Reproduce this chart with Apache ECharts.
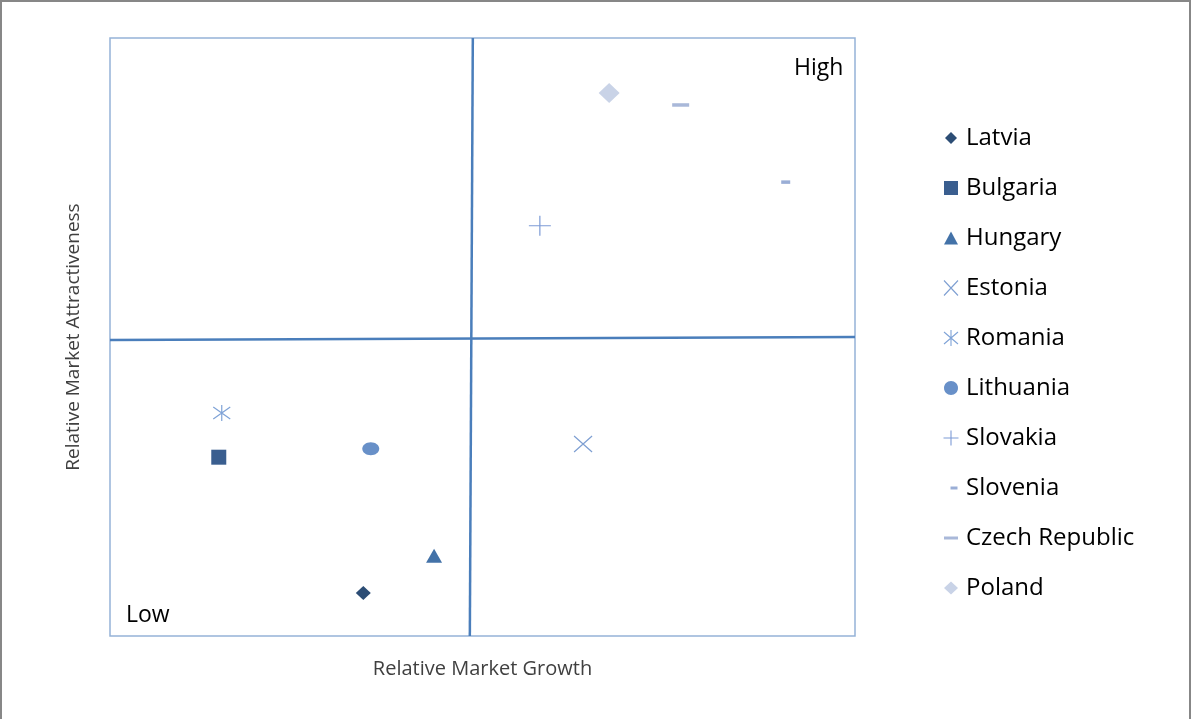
<!DOCTYPE html>
<html>
<head>
<meta charset="utf-8">
<script src="https://cdn.jsdelivr.net/npm/echarts@6/dist/echarts.min.js"></script>
<style>
html,body{margin:0;padding:0;background:#fff;}
#chart{width:1192px;height:719px;}
</style>
</head>
<body>
<div id="chart"></div>
<script>
// ---- data ----
const countries = ['Latvia','Bulgaria','Hungary','Estonia','Romania','Lithuania','Slovakia','Slovenia','Czech Republic','Poland'];
const growth = [34.0, 14.6, 43.5, 63.5, 15.0, 35.0, 57.7, 90.7, 76.6, 67.0];
const attractiveness = [7.2, 29.9, 13.4, 32.1, 37.3, 31.3, 68.6, 75.9, 88.8, 90.8];
const verticalDividerX = [48.7, 48.3];
const verticalDividerY = [100, 0];
const horizontalDividerX = [0, 100];
const horizontalDividerY = [49.5, 50.0];
const xTitle = 'Relative Market Growth';
const yTitle = 'Relative Market Attractiveness';
const highLabel = 'High';
const lowLabel = 'Low';

// ---- styles ----
const colors = ['#2c4d75','#3a5e8f','#4372a8','#7e9fd2','#7fa3d7','#6890c8','#7d9bd6','#9aaed6','#a9b8d9','#c9d3e7'];
const FONT = '"Open Sans"';

function f(n){return (Math.round(n*100)/100).toString();}
function pad(box){return 'M0,0M'+box+','+box;}
function diamond(w,h,box){const c=box/2;return 'path://'+pad(box)+'M'+f(c)+','+f(c-h/2)+'L'+f(c+w/2)+','+f(c)+'L'+f(c)+','+f(c+h/2)+'L'+f(c-w/2)+','+f(c)+'Z';}
function rect(w,h,box,dx){const c=box/2+(dx||0);const cy=box/2;return 'path://'+pad(box)+'M'+f(c-w/2)+','+f(cy-h/2)+'H'+f(c+w/2)+'V'+f(cy+h/2)+'H'+f(c-w/2)+'Z';}
function tri(w,h,box){const c=box/2;return 'path://'+pad(box)+'M'+f(c)+','+f(c-h/2)+'L'+f(c+w/2)+','+f(c+h/2)+'L'+f(c-w/2)+','+f(c+h/2)+'Z';}
function ellipse(w,h,box){const c=box/2,rx=w/2,ry=h/2,k=0.5523;
  return 'path://'+pad(box)+'M'+f(c-rx)+','+f(c)+
  'C'+f(c-rx)+','+f(c-ry*k)+' '+f(c-rx*k)+','+f(c-ry)+' '+f(c)+','+f(c-ry)+
  'C'+f(c+rx*k)+','+f(c-ry)+' '+f(c+rx)+','+f(c-ry*k)+' '+f(c+rx)+','+f(c)+
  'C'+f(c+rx)+','+f(c+ry*k)+' '+f(c+rx*k)+','+f(c+ry)+' '+f(c)+','+f(c+ry)+
  'C'+f(c-rx*k)+','+f(c+ry)+' '+f(c-rx)+','+f(c+ry*k)+' '+f(c-rx)+','+f(c)+'Z';}
function bar(x1,y1,x2,y2,t){const dx=x2-x1,dy=y2-y1,L=Math.sqrt(dx*dx+dy*dy);const nx=-dy/L*t/2,ny=dx/L*t/2;
  return 'M'+f(x1+nx)+','+f(y1+ny)+'L'+f(x2+nx)+','+f(y2+ny)+'L'+f(x2-nx)+','+f(y2-ny)+'L'+f(x1-nx)+','+f(y1-ny)+'Z';}
function plus(w,h,box,t){const c=box/2;return 'path://'+pad(box)+bar(c-w/2,c,c+w/2,c,t)+bar(c,c-h/2,c,c+h/2,t);}
function xmark(w,h,box,t){const c=box/2;return 'path://'+pad(box)+bar(c-w/2,c-h/2,c+w/2,c+h/2,t)+bar(c+w/2,c-h/2,c-w/2,c+h/2,t);}
function aster(w,h,box,t){const c=box/2;return 'path://'+pad(box)+bar(c-w/2,c-h/2*0.75,c+w/2,c+h/2*0.75,t)+bar(c+w/2,c-h/2*0.75,c-w/2,c+h/2*0.75,t)+bar(c,c-h/2,c,c+h/2,t);}

const B = 26;   // plot symbol box
const LB = 20;  // legend icon box
const plotSymbols = [
  diamond(15,14,B), rect(15,15,B), tri(16,14,B), xmark(18,16,B,1.2), aster(17,16,B,1.2),
  ellipse(17,13,B), plus(22,20,B,1.2), rect(9,3.5,B), rect(17,3.5,B), diamond(21,20,B)
];
const legendIcons = [
  diamond(12,12,LB), rect(14,14,LB), tri(14,13,LB), xmark(14,15,LB,1.1), aster(14,16,LB,1.1),
  ellipse(14,14,LB), plus(15,15,LB,1.1), rect(7,3,LB,3), rect(14,3,LB), diamond(14,13,LB)
];

const series = countries.map((name,i)=>({
  name: name,
  type: 'scatter',
  data: [[growth[i], attractiveness[i]]],
  symbol: plotSymbols[i],
  symbolSize: B,
  symbolKeepAspect: true,
  itemStyle: {color: colors[i], opacity: 1},
  z: 5
}));

series.push({
  type: 'line', name: 'vdiv', silent: true, symbol: 'none', z: 3,
  data: verticalDividerX.map((x,i)=>[x, verticalDividerY[i]]),
  lineStyle: {color: '#4a7ebb', width: 2.5}
});
series.push({
  type: 'line', name: 'hdiv', silent: true, symbol: 'none', z: 3,
  data: horizontalDividerX.map((x,i)=>[x, horizontalDividerY[i]]),
  lineStyle: {color: '#4a7ebb', width: 2.5}
});

const chart = echarts.init(document.getElementById('chart'), null, {renderer: 'canvas'});
chart.setOption({
  animation: false,
  backgroundColor: '#fff',
  grid: {left: 110, top: 38, width: 745, height: 598, show: true, borderColor: '#95b3d7', borderWidth: 1.5, backgroundColor: 'transparent'},
  xAxis: {
    type: 'value', min: 0, max: 100,
    axisLine: {show: false}, axisTick: {show: false}, axisLabel: {show: false}, splitLine: {show: false},
    name: xTitle, nameLocation: 'middle', nameGap: 23,
    nameTextStyle: {fontFamily: FONT, fontSize: 20, color: '#404040'}
  },
  yAxis: {
    type: 'value', min: 0, max: 100,
    axisLine: {show: false}, axisTick: {show: false}, axisLabel: {show: false}, splitLine: {show: false},
    name: yTitle, nameLocation: 'middle', nameGap: 27,
    nameTextStyle: {fontFamily: FONT, fontSize: 19, color: '#404040'}
  },
  legend: {
    orient: 'vertical', left: 936, top: 121,
    itemWidth: LB, itemHeight: LB, itemGap: 26,
    textStyle: {fontFamily: FONT, fontSize: 24, color: '#000'},
    data: countries.map((n,i)=>({name: n, icon: legendIcons[i]}))
  },
  graphic: [
    {type: 'rect', silent: true, shape: {x: 1, y: 1, width: 1189, height: 740}, style: {fill: 'none', stroke: '#878787', lineWidth: 2}},
    {type: 'text', left: 794, top: 57, style: {text: highLabel, font: '23px "Open Sans"', fill: '#000'}},
    {type: 'text', left: 126, top: 604, style: {text: lowLabel, font: '23px "Open Sans"', fill: '#000'}}
  ],
  series: series
});
</script>
</body>
</html>
